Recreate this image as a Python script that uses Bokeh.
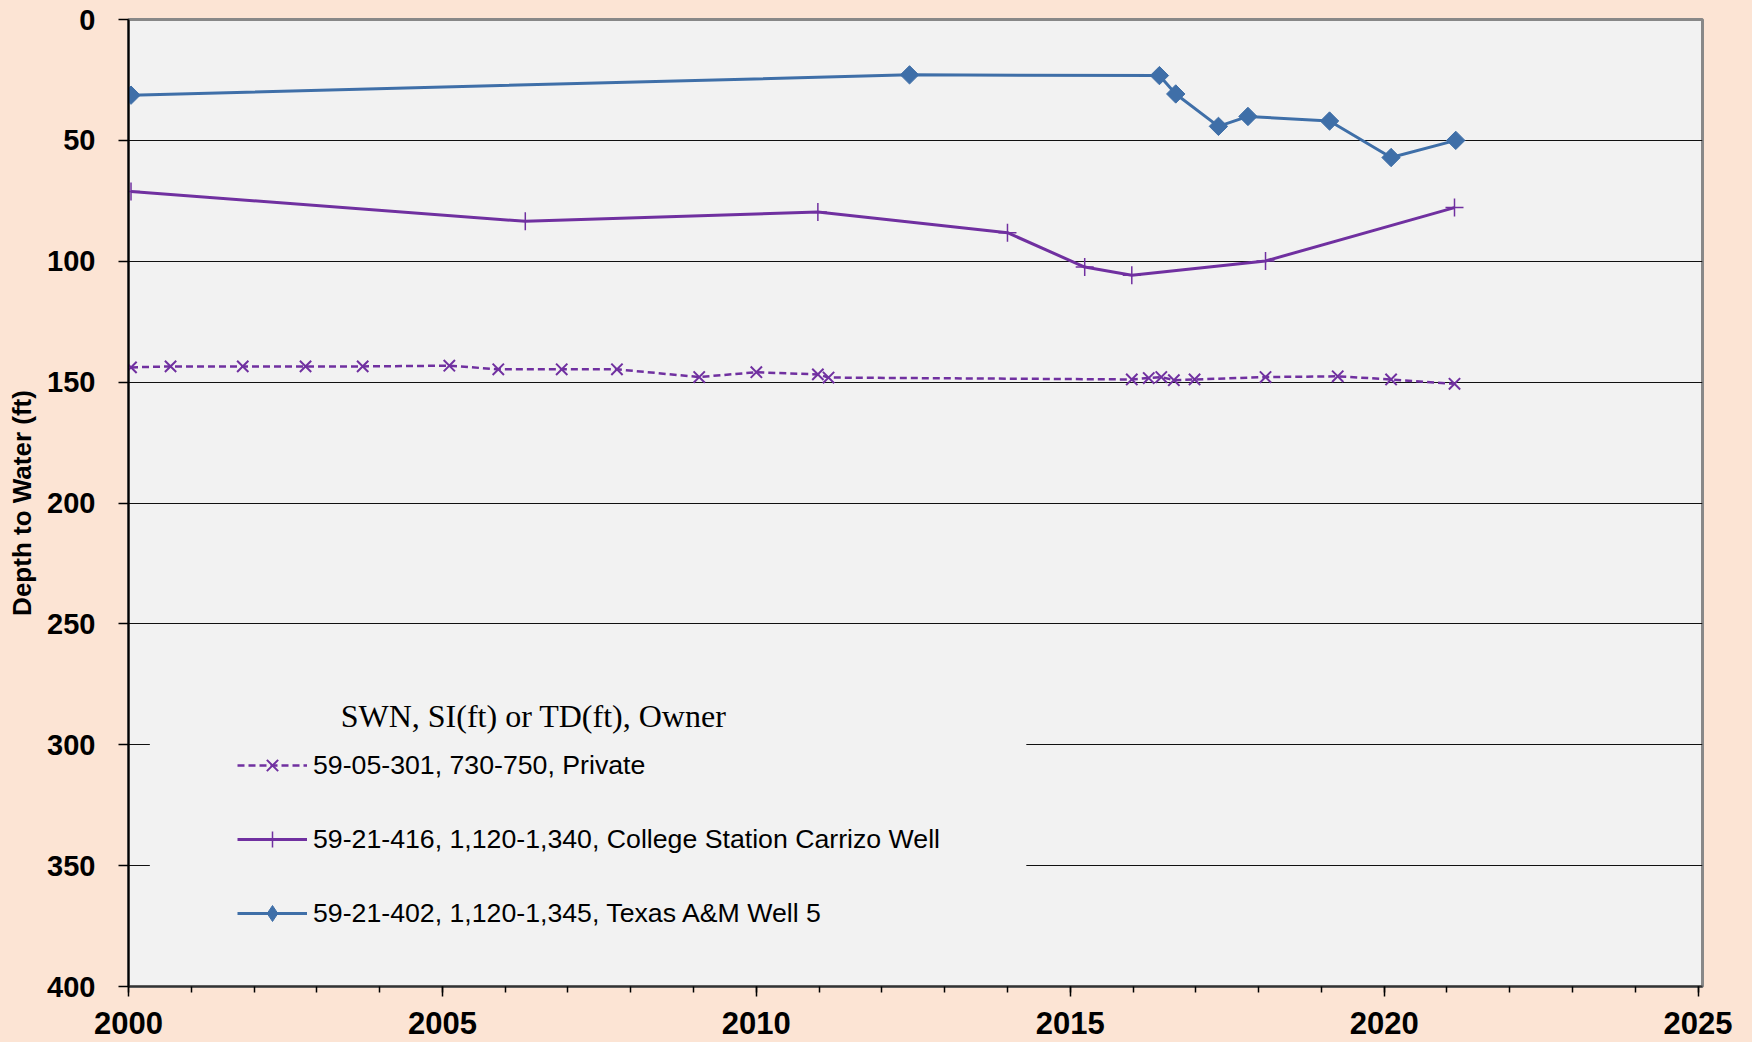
from bokeh.plotting import figure
from bokeh.models import (Range1d, FixedTicker, Legend, LegendItem, BoxAnnotation, Label)
from bokeh.embed import file_html
from bokeh.resources import INLINE
import numpy as np

# ---- data ----
private_years = [2000.04, 2000.67, 2001.82, 2002.82, 2003.73, 2005.11, 2005.89, 2006.90,
                 2007.78, 2009.09, 2010.00, 2010.98, 2011.15, 2015.98, 2016.25, 2016.45,
                 2016.65, 2016.98, 2018.11, 2019.26, 2020.11, 2021.12]
private_depth = [143.9, 143.5, 143.5, 143.5, 143.5, 143.2, 144.7, 144.7,
                 144.7, 147.9, 145.9, 146.8, 148.1, 148.9, 148.3, 147.9,
                 149.2, 148.9, 147.9, 147.6, 148.9, 150.7]

cs_years = [2000.04, 2006.32, 2010.98, 2014.00, 2015.23, 2015.98, 2018.11, 2021.12]
cs_depth = [71.1, 83.5, 79.6, 88.2, 102.4, 105.8, 99.9, 77.8]

tamu_years = [2000.04, 2012.44, 2016.42, 2016.68, 2017.36, 2017.83, 2019.13, 2020.11, 2021.14]
tamu_depth = [31.3, 22.9, 23.2, 30.8, 44.2, 40.1, 42.0, 57.1, 50.0]

series_labels = ["59-05-301, 730-750, Private",
                 "59-21-416, 1,120-1,340, College Station Carrizo Well",
                 "59-21-402, 1,120-1,345, Texas A&M Well 5"]
legend_title = "SWN, SI(ft) or TD(ft), Owner"
y_title = "Depth to Water (ft)"
x_major_ticks = [2000, 2005, 2010, 2015, 2020, 2025]
x_minor_ticks = list(range(2000, 2026))
y_ticks = [0, 50, 100, 150, 200, 250, 300, 350, 400]

PEACH = "#FCE4D4"
PLOTBG = "#F2F2F2"
PURPLE = "#7030A0"
BLUE = "#3F6FA8"

p = figure(width=1752, height=1040, output_backend="svg", toolbar_location=None,
           x_range=Range1d(2000, 2025.07), y_range=Range1d(400, 0),
           min_border_left=128, min_border_top=19, min_border_right=50, min_border_bottom=54)
p.border_fill_color = PEACH
p.background_fill_color = PLOTBG
p.outline_line_color = "#888888"
p.outline_line_width = 3

# grid
p.xgrid.grid_line_color = None
p.ygrid.ticker = FixedTicker(ticks=y_ticks[1:-1])
p.ygrid.grid_line_color = "#111111"
p.ygrid.grid_line_width = 1.2

# x axis
xa = p.xaxis[0]
xa.ticker = FixedTicker(ticks=x_major_ticks, minor_ticks=x_minor_ticks)
xa.major_tick_out = 10
xa.major_tick_in = 0
xa.minor_tick_out = 6
xa.minor_tick_in = 0
xa.major_tick_line_color = "black"
xa.minor_tick_line_color = "black"
xa.major_tick_line_width = 1.5
xa.minor_tick_line_width = 1.5
xa.axis_line_color = "#333333"
xa.axis_line_width = 2
xa.major_label_text_font = "Liberation Sans"
xa.major_label_text_font_style = "bold"
xa.major_label_text_font_size = "31px"
xa.major_label_text_color = "black"
xa.major_label_standoff = 15

# y axis
ya = p.yaxis[0]
ya.ticker = FixedTicker(ticks=y_ticks)
ya.major_tick_out = 10
ya.major_tick_in = 0
ya.minor_tick_line_color = None
ya.major_tick_line_color = "black"
ya.major_tick_line_width = 1.5
ya.axis_line_color = "black"
ya.axis_line_width = 2
ya.major_label_text_font = "Liberation Sans"
ya.major_label_text_font_style = "bold"
ya.major_label_text_font_size = "29px"
ya.major_label_text_color = "black"
ya.major_label_standoff = 23
ya.axis_label = y_title
ya.axis_label_text_font = "Liberation Sans"
ya.axis_label_text_font_style = "bold"
ya.axis_label_text_font_size = "26px"
ya.axis_label_text_color = "black"
ya.axis_label_standoff = 7

# series
r1l = p.line(private_years, private_depth, line_color=PURPLE, line_width=2.5, line_dash="7 4")
r1s = p.scatter(private_years, private_depth, marker="x", size=16, line_color=PURPLE, line_width=2)

r2l = p.line(cs_years, cs_depth, line_color=PURPLE, line_width=3)
r2s = p.scatter(cs_years, cs_depth, marker="cross", size=18, line_color=PURPLE, line_width=1.5)

r3l = p.line(tamu_years, tamu_depth, line_color=BLUE, line_width=3)
r3s = p.scatter(tamu_years, tamu_depth, marker="square", size=13, angle=np.pi / 4,
                fill_color=BLUE, line_color=BLUE)
# legend-only diamond glyph (hidden on the plot)
r3d = p.scatter(tamu_years, tamu_depth, marker="diamond", size=19,
                fill_color=BLUE, line_color=BLUE)
r3d.visible = False

# legend background (covers gridlines behind legend)
cover = BoxAnnotation(left=2000.34, right=2014.30, top=265, bottom=389,
                      fill_color=PLOTBG, fill_alpha=1.0, line_alpha=0)
p.add_layout(cover)

legend = Legend(items=[LegendItem(label=series_labels[0], renderers=[r1l, r1s]),
                       LegendItem(label=series_labels[1], renderers=[r2l, r2s]),
                       LegendItem(label=series_labels[2], renderers=[r3l, r3d])],
                location=(99, 43), orientation="vertical",
                background_fill_alpha=0, border_line_alpha=0,
                inactive_fill_alpha=0,
                label_text_font="Liberation Sans", label_text_font_size="26.7px",
                label_text_color="black",
                glyph_width=70, glyph_height=40, label_height=30,
                spacing=34, padding=10, margin=0, label_standoff=6)
p.add_layout(legend)

title_label = Label(x=2003.38, y=288, text=legend_title, text_font="Liberation Serif",
                    text_font_size="32px", text_baseline="middle", text_align="left",
                    text_color="black")
p.add_layout(title_label)

html = file_html(p, INLINE)
html = html.replace("<head>",
                    "<head><style>html,body{background:%s;margin:0;padding:0;}</style>" % PEACH, 1)
open("out.html", "w").write(html)
